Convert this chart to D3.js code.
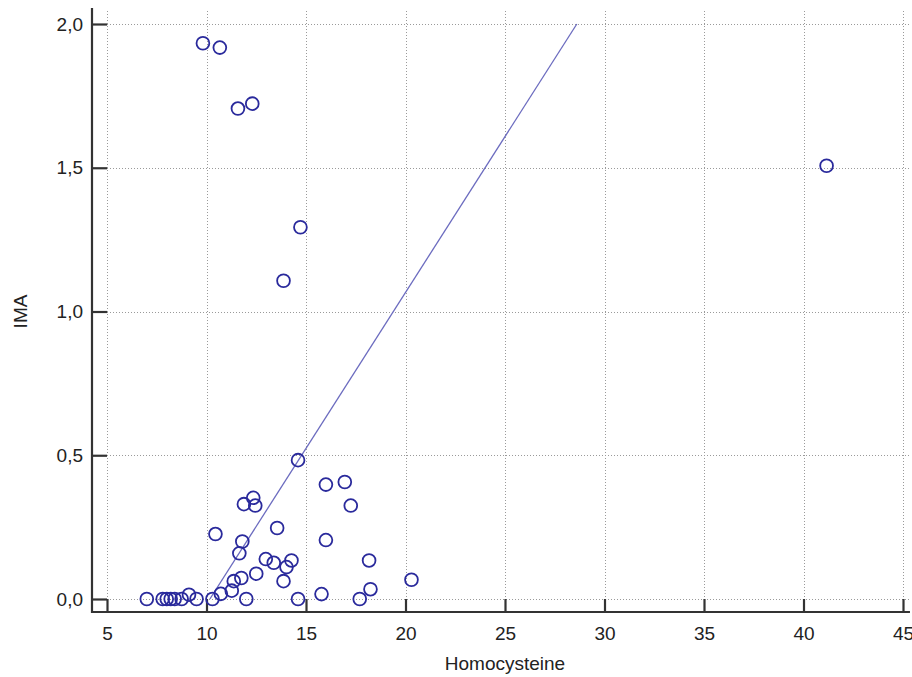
<!DOCTYPE html>
<html>
<head>
<meta charset="utf-8">
<script src="https://cdn.jsdelivr.net/npm/d3@7"></script>
<style>
  html, body { margin: 0; padding: 0; background: #fff; }
  svg { display: block; font-family: "Liberation Sans", Arial, sans-serif; }
</style>
</head>
<body>
<svg id="chart" width="912" height="677"></svg>
<script>
// Homocysteine vs IMA scatter with least-squares line
const homocysteine = [
  9.82, 10.67, 11.58, 12.30, 14.72, 13.87, 41.16,
  14.60, 16.00, 16.95, 17.25, 11.88, 12.35, 12.45, 13.55, 10.45, 11.80, 16.00,
  11.65, 12.98, 13.38, 14.27, 14.02, 18.17, 12.50, 11.75, 11.37, 13.87, 20.30,
  11.27, 18.24, 15.78, 10.72, 9.12,
  7.00, 7.80, 8.00, 8.20, 8.40, 8.75, 9.50, 10.30, 12.00, 14.60, 17.70
];
const ima = [
  1.933, 1.918, 1.706, 1.723, 1.293, 1.107, 1.507,
  0.483, 0.398, 0.407, 0.325, 0.330, 0.352, 0.325, 0.247, 0.226, 0.200, 0.205,
  0.159, 0.139, 0.126, 0.134, 0.111, 0.134, 0.088, 0.073, 0.062, 0.062, 0.067,
  0.029, 0.034, 0.017, 0.018, 0.015,
  0, 0, 0, 0, 0, 0, 0, 0, 0, 0, 0
];
const xTicks = [5, 10, 15, 20, 25, 30, 35, 40, 45];
const yTicks = [0, 0.5, 1.0, 1.5, 2.0];
const regression = { intercept: -1.103, slope: 0.10846 };
const xTitle = "Homocysteine";
const yTitle = "IMA";

const svg = d3.select("#chart");

const x = d3.scaleLinear().domain([5, 45]).range([107, 903]);
const y = d3.scaleLinear().domain([0, 2]).range([599, 24]);

// plot frame extents (slightly beyond the last ticks)
const xEnd = 45.35, yEnd = 2.045;
const axisX = 92, axisY = 612;

const locale = d3.formatLocale({ decimal: ",", thousands: ".", grouping: [3], currency: ["", ""] });
const fmtY = locale.format(".1f");

// dotted grid
const grid = svg.append("g")
  .attr("stroke", "#9a9a9a")
  .attr("stroke-width", 1)
  .attr("stroke-dasharray", "1,2")
  .attr("shape-rendering", "crispEdges");
grid.selectAll("line.v").data(xTicks).join("line")
  .attr("class", "v")
  .attr("x1", d => Math.round(x(d)) + 0.5).attr("x2", d => Math.round(x(d)) + 0.5)
  .attr("y1", y(yEnd)).attr("y2", y(0));
grid.selectAll("line.h").data(yTicks).join("line")
  .attr("class", "h")
  .attr("y1", d => Math.round(y(d)) + 0.5).attr("y2", d => Math.round(y(d)) + 0.5)
  .attr("x1", x(5)).attr("x2", x(xEnd));

// axes, offset from the plot area; ticks bridge the gap
const yAxis = d3.axisLeft(y).tickValues(yTicks).tickFormat(fmtY)
  .tickSizeInner(-(x(5) - axisX)).tickSizeOuter(0).tickPadding(9);
const gy = svg.append("g").attr("transform", `translate(${axisX},0)`).call(yAxis);
gy.select(".domain").remove();

const xAxis = d3.axisBottom(x).tickValues(xTicks).tickFormat(d3.format("d"))
  .tickSizeInner(-(axisY - y(0))).tickSizeOuter(0).tickPadding(15);
const gx = svg.append("g").attr("transform", `translate(0,${axisY})`).call(xAxis);
gx.select(".domain").remove();

[gx, gy].forEach(g => {
  g.selectAll(".tick line").attr("stroke", "#333").attr("stroke-width", 2.2);
  g.selectAll(".tick text").attr("fill", "#222").style("font-size", "19px")
    .style("font-family", "'Liberation Sans', Arial, sans-serif");
});

svg.append("line")
  .attr("x1", axisX).attr("x2", axisX)
  .attr("y1", 8).attr("y2", axisY + 1)
  .attr("stroke", "#333").attr("stroke-width", 2.2);
svg.append("line")
  .attr("x1", axisX - 1).attr("x2", x(xEnd))
  .attr("y1", axisY).attr("y2", axisY)
  .attr("stroke", "#333").attr("stroke-width", 2.2);

// regression line, shown where the fitted IMA lies within 0..2
const fitX0 = (0 - regression.intercept) / regression.slope;
const fitX1 = (2 - regression.intercept) / regression.slope;
svg.append("line")
  .attr("x1", x(fitX0)).attr("y1", y(regression.intercept + regression.slope * fitX0))
  .attr("x2", x(fitX1)).attr("y2", y(regression.intercept + regression.slope * fitX1))
  .attr("stroke", "#6b6bbf").attr("stroke-width", 1.3);

// observations
const points = homocysteine.map((h, i) => ({ h, v: ima[i] }));
svg.append("g").selectAll("circle").data(points).join("circle")
  .attr("cx", d => x(d.h)).attr("cy", d => y(d.v))
  .attr("r", 6.4)
  .attr("fill", "none")
  .attr("stroke", "#2a2a9c")
  .attr("stroke-width", 1.8);

// axis titles
svg.append("text")
  .attr("x", (x(5) + x(45)) / 2).attr("y", 670)
  .attr("text-anchor", "middle")
  .attr("fill", "#222").style("font-size", "19px")
  .text(xTitle);
svg.append("text")
  .attr("transform", `translate(27,${(y(0) + y(2)) / 2}) rotate(-90)`)
  .attr("text-anchor", "middle")
  .attr("fill", "#222").style("font-size", "19px")
  .text(yTitle);
</script>
</body>
</html>
